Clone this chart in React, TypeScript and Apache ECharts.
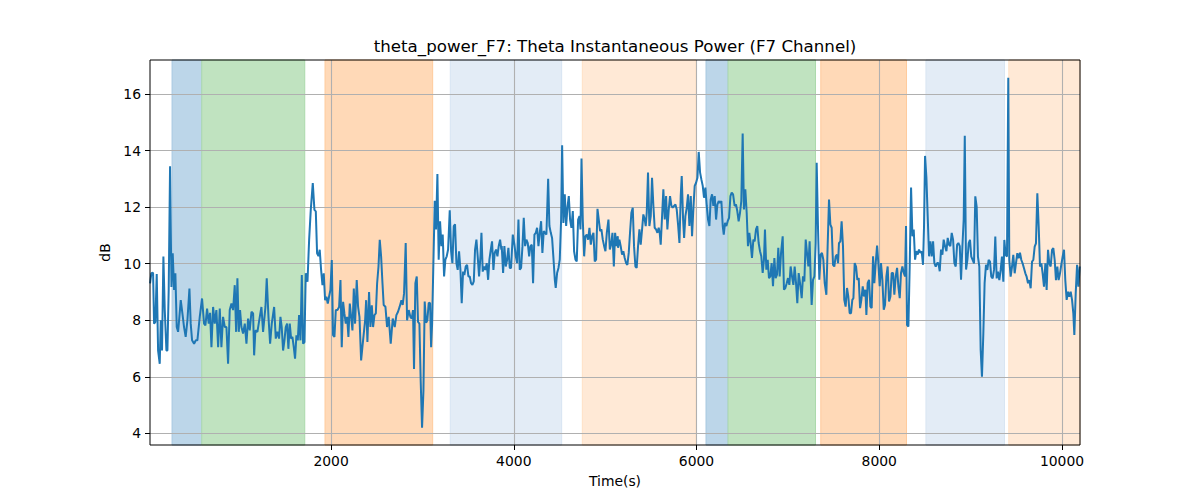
import React, { useEffect, useRef } from "react";
import * as echarts from "echarts";

// ---- Data (time in s, power in dB) ----
const seg1: [number, number][] = [[19,9.3],[33,9.66],[52,9.68],[63,7.88],[77,7.94],[92,9.63],[107,6.93],[125,6.46],[136,8.0],[150,6.93],[165,10.25],[180,8.36],[198,6.93],[209,6.93],[223,9.07],[238,13.44],[253,9.18],[267,10.37],[282,9.07],[296,9.66],[311,7.76],[326,7.59],[340,8.12],[355,8.71],[373,8.24],[391,7.76],[409,7.41],[428,8.0],[450,9.12],[464,7.88],[479,7.29],[501,7.17],[519,7.29],[537,7.29],[563,8.12],[588,8.77],[610,7.88],[625,7.82],[643,8.41],[661,7.88],[676,8.26],[691,7.05],[709,8.47],[727,7.88],[745,8.36],[764,7.05],[782,8.41],[800,7.05],[818,8.12],[837,7.76],[855,7.76],[873,6.46],[891,8.36],[910,8.59],[928,8.36],[946,9.24],[961,7.59],[975,9.48],[990,7.59],[1004,8.36],[1019,7.76],[1037,7.53],[1056,7.88],[1074,7.17],[1092,8.06],[1110,7.64],[1129,8.3],[1147,8.24],[1158,6.76],[1172,7.64],[1194,7.59],[1220,8.12],[1238,8.47],[1256,7.59],[1282,8.47]];
const seg2: [number, number][] = [[1296,9.48],[1315,8.12],[1333,7.17],[1351,7.88],[1377,8.47],[1395,7.35],[1413,7.59],[1431,7.35],[1446,8.12],[1460,7.76],[1475,6.93],[1490,7.29],[1504,7.76],[1519,7.88],[1533,6.99],[1548,7.88],[1563,7.35],[1577,7.41],[1592,7.05],[1606,6.64],[1621,7.47],[1636,7.29],[1650,8.18],[1665,7.29],[1680,9.6],[1694,7.17],[1709,7.23],[1723,9.66],[1742,9.36],[1760,10.84],[1778,11.9],[1800,12.85],[1818,11.9],[1833,11.85],[1847,10.37],[1862,10.27],[1876,10.49],[1891,9.78],[1906,9.24],[1920,9.66],[1935,8.71],[1949,8.83],[1964,8.59],[1978,8.83],[1993,9.07],[2008,10.13],[2022,7.47],[2037,7.41],[2052,8.36],[2070,8.36],[2088,8.47],[2103,9.42],[2117,7.05],[2132,8.65],[2146,8.24],[2161,7.88],[2176,8.12],[2190,7.41],[2205,8.59],[2220,8.12],[2234,7.64],[2249,9.12],[2263,7.88],[2281,9.42],[2296,8.47],[2311,8.12],[2329,6.58],[2343,7.05],[2358,7.53],[2373,8.0],[2384,8.71],[2398,7.23],[2416,9.0],[2431,7.76],[2446,8.53],[2460,7.76],[2475,8.18],[2490,8.24],[2504,9.3],[2519,9.89],[2533,10.84],[2548,10.25],[2563,9.3]];
const seg3: [number, number][] = [[2576,8.54],[2595,8.48],[2613,7.76],[2631,8.12],[2653,7.17],[2675,8.06],[2697,7.76],[2715,8.18],[2733,8.3],[2751,8.48],[2770,8.71],[2784,8.54],[2799,8.95],[2817,10.73],[2832,8.0],[2850,8.36],[2868,8.12],[2883,8.06],[2897,8.36],[2908,6.28],[2923,9.31],[2938,9.55],[2952,7.94],[2967,7.88],[2981,5.86],[2996,4.2],[3011,5.5],[3025,8.66],[3040,7.91],[3054,8.0],[3069,8.62],[3084,8.6],[3095,7.05],[3106,7.88],[3120,10.02],[3135,12.22],[3149,11.21],[3164,13.17],[3178,10.14],[3193,11.5],[3208,10.62],[3222,11.03],[3237,9.55],[3251,10.14],[3266,10.26],[3281,10.5],[3299,11.89],[3314,10.44],[3328,10.02],[3343,11.33],[3357,11.39],[3372,10.02],[3386,9.78],[3401,10.44],[3416,9.78],[3430,8.6],[3445,9.72],[3459,9.6],[3474,9.9],[3489,9.96],[3503,9.55],[3518,9.55],[3532,9.31],[3547,9.25],[3562,9.37],[3576,10.5],[3591,10.85],[3605,10.26],[3620,9.55],[3635,10.26],[3646,11.09],[3660,9.72],[3675,9.9],[3689,9.78],[3704,10.02],[3719,9.43],[3733,10.14],[3748,10.5],[3762,10.79],[3777,9.78],[3791,10.38],[3806,10.5],[3821,10.26],[3835,10.62],[3850,10.85],[3864,10.5]];
const seg4: [number, number][] = [[3868,10.62],[3883,9.67],[3897,10.62],[3912,9.9],[3927,10.14],[3941,10.56],[3956,9.85],[3970,9.85],[3989,11.03],[4007,10.67],[4022,10.26],[4036,10.02],[4051,11.56],[4065,9.79],[4080,9.85],[4095,10.62],[4109,11.62],[4124,10.62],[4138,10.85],[4153,10.73],[4168,10.26],[4182,10.62],[4197,10.67],[4211,9.31],[4226,11.03],[4241,11.09],[4255,11.27],[4270,10.62],[4284,11.09],[4299,11.5],[4313,10.38],[4328,11.15],[4343,11.09],[4357,11.03],[4376,13.0],[4390,11.33],[4405,11.09],[4419,10.91],[4434,10.2],[4449,9.43],[4459,9.14],[4474,9.67],[4489,9.85],[4503,10.14],[4518,11.56],[4529,14.19],[4543,11.44],[4558,12.45],[4573,11.33],[4587,11.98],[4602,12.39],[4616,11.56],[4631,11.27],[4646,11.86],[4660,10.44],[4675,10.14],[4689,10.08],[4704,11.56],[4719,11.68],[4730,11.21],[4741,13.72],[4755,11.56],[4770,10.26],[4784,10.97],[4799,11.03],[4814,10.85],[4828,11.27],[4843,10.67],[4857,10.97],[4872,11.09],[4886,10.08],[4901,10.14],[4916,11.94],[4930,11.56],[4945,11.15],[4959,11.21],[4974,10.85],[4989,10.62],[5003,10.44],[5018,11.09],[5036,11.56],[5051,10.5],[5065,10.67],[5080,11.09],[5095,9.9],[5109,11.09],[5124,10.62],[5138,10.97]];
const seg5: [number, number][] = [[5141,10.56],[5156,10.85],[5170,10.62],[5185,10.32],[5199,10.44],[5214,10.2],[5229,10.02],[5243,9.96],[5258,10.38],[5272,11.09],[5287,11.8],[5302,11.98],[5316,10.62],[5331,9.9],[5345,9.85],[5360,10.62],[5375,11.21],[5389,10.67],[5404,11.21],[5418,11.74],[5433,11.56],[5444,11.33],[5455,11.8],[5469,13.22],[5484,11.33],[5499,11.68],[5513,13.04],[5528,12.04],[5542,11.27],[5557,11.21],[5572,11.09],[5586,11.27],[5597,11.09],[5608,10.67],[5623,11.68],[5637,12.63],[5652,11.56],[5667,12.39],[5681,11.21],[5696,11.92],[5710,12.39],[5725,12.04],[5739,11.98],[5754,12.04],[5769,12.09],[5783,11.92],[5798,11.38],[5813,10.73],[5827,12.39],[5838,13.1],[5853,11.56],[5864,10.91],[5878,11.68],[5893,11.98],[5907,12.45],[5922,11.33],[5937,12.39],[5951,10.97],[5966,11.98],[5980,12.75],[5995,12.86],[6010,13.04],[6024,13.95],[6039,13.22],[6053,12.98],[6068,12.75],[6082,12.33],[6097,12.69],[6112,12.04],[6126,11.56],[6141,11.33],[6155,12.27],[6170,12.45],[6184,12.04],[6199,12.39],[6214,11.56],[6228,12.09],[6243,12.21],[6257,12.15],[6272,12.21],[6287,11.33],[6298,11.03],[6312,11.44],[6327,11.33],[6341,11.5],[6356,11.62],[6371,12.39],[6385,12.51],[6400,12.45]];
const seg6: [number, number][] = [[6417,12.04],[6432,12.09],[6446,11.86],[6461,11.5],[6476,11.8],[6490,12.21],[6505,14.6],[6519,11.92],[6534,12.63],[6549,11.8],[6563,10.62],[6578,11.09],[6592,10.73],[6607,10.2],[6622,10.85],[6636,10.79],[6651,11.21],[6665,11.33],[6680,10.73],[6695,10.44],[6709,10.26],[6724,9.67],[6738,10.14],[6749,11.21],[6764,9.79],[6779,10.14],[6793,9.49],[6808,9.55],[6822,10.02],[6837,9.2],[6852,10.2],[6866,9.49],[6881,9.61],[6895,10.56],[6910,9.55],[6925,10.38],[6943,10.97],[6957,9.08],[6972,9.14],[6987,9.31],[7001,9.49],[7016,9.25],[7030,9.9],[7045,9.55],[7060,9.25],[7074,9.9],[7089,9.31],[7103,8.6],[7118,9.67],[7133,9.31],[7151,8.78],[7165,9.55],[7180,9.37],[7195,10.85],[7209,10.38],[7224,9.9],[7238,10.79],[7249,9.55],[7260,8.54],[7275,9.43],[7290,9.55],[7304,10.73],[7315,13.57],[7330,11.21],[7344,9.43],[7359,10.32],[7373,10.38],[7388,10.14],[7403,9.31],[7421,8.9],[7435,10.62],[7450,12.27],[7465,11.38],[7479,11.27],[7494,9.96],[7508,9.9],[7523,10.26],[7537,10.32],[7549,10.02],[7559,10.73],[7574,10.79],[7588,11.5],[7603,10.62],[7617,8.72],[7632,8.48],[7647,9.14],[7661,8.84],[7676,8.25],[7691,8.25],[7705,8.72]];
const seg7: [number, number][] = [[7717,8.78],[7731,10.02],[7746,9.9],[7760,9.43],[7775,9.49],[7790,8.43],[7804,8.72],[7819,9.2],[7833,8.84],[7848,9.08],[7859,8.19],[7873,9.31],[7888,9.43],[7903,8.48],[7917,8.43],[7932,10.26],[7946,9.31],[7961,10.02],[7976,10.64],[7990,10.02],[8005,9.2],[8019,10.02],[8034,9.43],[8049,8.37],[8063,8.54],[8078,9.55],[8092,9.9],[8107,8.66],[8122,8.84],[8136,9.67],[8151,9.67],[8165,8.9],[8180,9.55],[8195,9.85],[8209,9.2],[8224,8.78],[8238,9.67],[8253,9.9],[8268,9.67],[8282,9.55],[8293,11.33],[8304,7.83],[8319,7.78],[8333,9.9],[8348,12.69],[8363,10.97],[8377,11.21],[8392,10.14],[8406,10.44],[8421,10.32],[8435,10.5],[8450,10.38],[8464,10.44],[8479,9.96],[8490,11.33],[8501,13.81],[8516,13.04],[8530,11.68],[8545,10.26],[8560,10.79],[8574,10.26],[8589,10.79],[8603,10.02],[8618,9.9],[8633,10.02],[8647,10.02],[8662,9.73],[8676,10.5],[8691,10.32],[8705,10.85],[8720,10.62],[8735,10.44],[8749,10.91],[8764,10.67],[8778,10.62],[8793,11.09],[8808,10.85],[8822,10.02],[8837,9.9],[8852,10.67],[8866,10.73],[8881,10.62],[8895,9.43],[8910,10.62],[8924,11.56],[8936,14.52],[8950,9.79],[8965,10.14],[8979,10.73]];
const seg8: [number, number][] = [[8993,10.84],[9007,10.25],[9022,10.13],[9037,10.01],[9051,12.38],[9066,12.02],[9080,10.25],[9095,9.9],[9110,6.94],[9124,6.0],[9139,7.53],[9153,9.31],[9168,9.96],[9183,9.78],[9197,10.13],[9212,10.07],[9226,9.54],[9241,9.48],[9256,9.78],[9270,10.96],[9285,9.48],[9299,9.72],[9314,9.42],[9329,9.78],[9343,10.25],[9358,9.36],[9369,10.84],[9383,10.31],[9398,10.25],[9412,16.57],[9423,10.13],[9438,9.54],[9453,9.9],[9467,10.31],[9482,9.66],[9496,10.01],[9511,10.37],[9526,10.19],[9540,10.39],[9555,10.13],[9569,10.01],[9584,9.84],[9599,9.66],[9613,9.54],[9628,9.31],[9642,9.42],[9657,9.13],[9672,10.07],[9686,10.13],[9701,10.6],[9715,10.72],[9730,12.49],[9745,11.31],[9759,9.9],[9774,10.01],[9788,9.66],[9803,9.19],[9818,10.01],[9832,9.07],[9847,10.49],[9861,10.01],[9876,9.9],[9891,10.49],[9905,10.55],[9920,10.13],[9934,9.42],[9949,9.9],[9963,9.42],[9978,9.66],[9992,9.96],[10007,10.25],[10022,10.49],[10036,9.42],[10051,8.72],[10066,9.01],[10080,8.83],[10095,9.01],[10110,8.72],[10124,8.24],[10135,7.48],[10150,8.95],[10165,9.96],[10179,9.19],[10194,9.9]];

// shaded intervals: [start, end, kind]
const regions: [number, number, string][] = [
  [260, 585, "blue"],
  [585, 1712, "green"],
  [1934, 3112, "orange"],
  [3305, 4524, "lightblue"],
  [4750, 5994, "lightorange"],
  [6104, 6345, "blue"],
  [6345, 7302, "green"],
  [7360, 8298, "orange"],
  [8511, 9370, "lightblue"],
  [9418, 10197, "lightorange"],
];

const xTicks = [2000, 4000, 6000, 8000, 10000];
const yTicks = [4, 6, 8, 10, 12, 14, 16];
const X_MIN = 18.4;
const X_MAX = 10197;
const Y_MIN = 3.59;
const Y_MAX = 17.2;

const TITLE = "theta_power_F7: Theta Instantaneous Power (F7 Channel)";
const X_NAME = "Time(s)";
const Y_NAME = "dB";

const FACE: Record<string, string> = {
  blue: "#bcd6e9",
  green: "#c0e3c0",
  orange: "#ffd9b7",
  lightblue: "#e3ecf6",
  lightorange: "#ffe9d6",
};
const EDGE: Record<string, string> = {
  blue: "#a6c8e1",
  green: "#acd9ac",
  orange: "#ffcb9c",
  lightblue: "#d7e4f2",
  lightorange: "#ffe0c4",
};

const FONT = "DejaVu Sans";

export default function App() {
  const ref = useRef<HTMLDivElement>(null);
  useEffect(() => {
    if (!ref.current) return;
    const chart = echarts.init(ref.current, null, { renderer: "svg" });
    const data = [...seg1, ...seg2, ...seg3, ...seg4, ...seg5, ...seg6, ...seg7, ...seg8];
    const axisText = { color: "#000", fontSize: 13.9, fontFamily: FONT };
    const plain = (v: number) => String(v);
    chart.setOption({
      animation: false,
      backgroundColor: "#fff",
      grid: { left: 150, right: 120, top: 60, bottom: 55, containLabel: false },
      xAxis: {
        type: "value",
        min: X_MIN,
        max: X_MAX,
        z: 1.5,
        axisLine: { show: false },
        axisTick: { show: true, length: 5, lineStyle: { color: "#000", width: 1 }, customValues: xTicks },
        axisLabel: { ...axisText, margin: 9, customValues: xTicks, formatter: plain },
        splitLine: { show: true, lineStyle: { color: "#b0b0b0", width: 1.1 } },
        name: X_NAME,
        nameLocation: "middle",
        nameGap: 29,
        nameTextStyle: axisText,
      },
      yAxis: {
        type: "value",
        min: Y_MIN,
        max: Y_MAX,
        z: 1.5,
        axisLine: { show: false },
        axisTick: { show: true, length: 5, lineStyle: { color: "#000", width: 1 }, customValues: yTicks },
        axisLabel: { ...axisText, margin: 9, customValues: yTicks, formatter: plain },
        splitLine: { show: true, lineStyle: { color: "#b0b0b0", width: 1.1 } },
        name: Y_NAME,
        nameLocation: "middle",
        nameGap: 33,
        nameTextStyle: axisText,
      },
      graphic: [
        {
          type: "text",
          x: 615,
          y: 46,
          z: 100,
          style: {
            text: TITLE,
            fill: "#000",
            font: `16.67px "${FONT}"`,
            textAlign: "center",
            textVerticalAlign: "middle",
          },
        },
        {
          type: "rect",
          z: 100,
          silent: true,
          shape: { x: 150, y: 60, width: 930, height: 385 },
          style: { fill: "none", stroke: "#000", lineWidth: 1 },
        },
      ],
      series: [
        {
          type: "line",
          data: [],
          z: 1,
          silent: true,
          markArea: {
            silent: true,
            data: regions.map(([s, e, k]) => [
              { xAxis: s, itemStyle: { color: FACE[k], borderColor: EDGE[k], borderWidth: 1 } },
              { xAxis: e },
            ]),
          },
        },
        {
          type: "line",
          data,
          z: 3,
          showSymbol: false,
          symbol: "none",
          lineStyle: { color: "#1f77b4", width: 2 },
          silent: true,
        },
      ],
    });
    return () => chart.dispose();
  }, []);
  return (
    <div
      ref={ref}
      style={{ position: "absolute", left: 0, top: 0, width: 1200, height: 500 }}
    />
  );
}
